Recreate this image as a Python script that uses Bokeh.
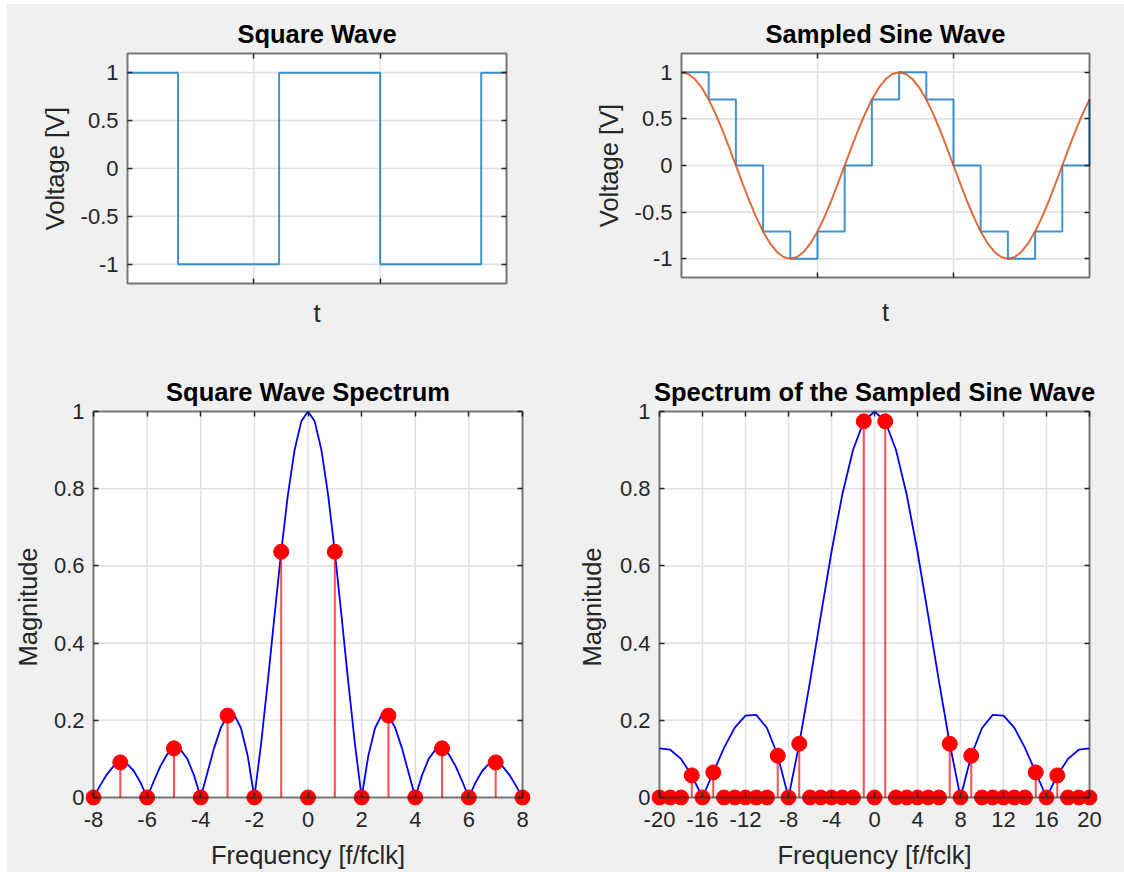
from bokeh.plotting import figure
from bokeh.layouts import column, row
from bokeh.models import Range1d, LinearAxis, FixedTicker, CustomJSTickFormatter, Spacer
from bokeh.embed import file_html
from bokeh.resources import INLINE

# ---------------- data ----------------
# Square wave (top left)
square_t = [0, 1, 3, 5, 7, 7.5]
square_v = [1, -1, 1, -1, 1, 1]

# Sample-and-hold of the sine (top right, blue stairs)
held_t = [0, 0.5, 1, 1.5, 2, 2.5, 3, 3.5, 4, 4.5, 5, 5.5, 6, 6.5, 7, 7.5]
held_v = [1, 0.707, 0, -0.707, -1, -0.707, 0, 0.707,
          1, 0.707, 0, -0.707, -1, -0.707, 0, 0.707]

# Continuous sine (top right, orange)
sine_t = [0, 0.125, 0.25, 0.375, 0.5, 0.625, 0.75, 0.875,
          1, 1.125, 1.25, 1.375, 1.5, 1.625, 1.75, 1.875,
          2, 2.125, 2.25, 2.375, 2.5, 2.625, 2.75, 2.875,
          3, 3.125, 3.25, 3.375, 3.5, 3.625, 3.75, 3.875,
          4, 4.125, 4.25, 4.375, 4.5, 4.625, 4.75, 4.875,
          5, 5.125, 5.25, 5.375, 5.5, 5.625, 5.75, 5.875,
          6, 6.125, 6.25, 6.375, 6.5, 6.625, 6.75, 6.875,
          7, 7.125, 7.25, 7.375, 7.5]
sine_v = [1, 0.981, 0.924, 0.831, 0.707, 0.556, 0.383, 0.195,
          0, -0.195, -0.383, -0.556, -0.707, -0.831, -0.924, -0.981,
          -1, -0.981, -0.924, -0.831, -0.707, -0.556, -0.383, -0.195,
          0, 0.195, 0.383, 0.556, 0.707, 0.831, 0.924, 0.981,
          1, 0.981, 0.924, 0.831, 0.707, 0.556, 0.383, 0.195,
          0, -0.195, -0.383, -0.556, -0.707, -0.831, -0.924, -0.981,
          -1, -0.981, -0.924, -0.831, -0.707, -0.556, -0.383, -0.195,
          0, 0.195, 0.383, 0.556, 0.707]

# Square wave spectrum (bottom left): envelope and harmonics
sq_env_f = [-8, -7.75, -7.5, -7.25, -7, -6.75, -6.5, -6.25,
            -6, -5.75, -5.5, -5.25, -5, -4.75, -4.5, -4.25,
            -4, -3.75, -3.5, -3.25, -3, -2.75, -2.5, -2.25,
            -2, -1.75, -1.5, -1.25, -1, -0.75, -0.5, -0.25,
            0, 0.25, 0.5, 0.75, 1, 1.25, 1.5, 1.75,
            2, 2.25, 2.5, 2.75, 3, 3.25, 3.5, 3.75,
            4, 4.25, 4.5, 4.75, 5, 5.25, 5.5, 5.75,
            6, 6.25, 6.5, 6.75, 7, 7.25, 7.5, 7.75, 8]
sq_env_mag = [0, 0.0314, 0.0600, 0.0811, 0.0909, 0.0871, 0.0693, 0.0390,
              0, 0.0424, 0.0818, 0.1120, 0.1273, 0.1238, 0.1000, 0.0573,
              0, 0.0650, 0.1286, 0.1810, 0.2122, 0.2139, 0.1801, 0.1083,
              0, 0.1392, 0.3001, 0.4705, 0.6366, 0.7842, 0.9003, 0.9745,
              1, 0.9745, 0.9003, 0.7842, 0.6366, 0.4705, 0.3001, 0.1392,
              0, 0.1083, 0.1801, 0.2139, 0.2122, 0.1810, 0.1286, 0.0650,
              0, 0.0573, 0.1000, 0.1238, 0.1273, 0.1120, 0.0818, 0.0424,
              0, 0.0390, 0.0693, 0.0871, 0.0909, 0.0811, 0.0600, 0.0314, 0]
sq_harm_f = [-8, -7, -6, -5, -4, -3, -2, -1, 0, 1, 2, 3, 4, 5, 6, 7, 8]
sq_harm_mag = [0, 0.0909, 0, 0.1273, 0, 0.2122, 0, 0.6366, 0,
               0.6366, 0, 0.2122, 0, 0.1273, 0, 0.0909, 0]
sq_harm_base = [0, 0, 0, 0, 0, 0, 0, 0, 0, 0, 0, 0, 0, 0, 0, 0, 0]

# Sampled sine spectrum (bottom right): envelope and lines
ss_f = [-20, -19, -18, -17, -16, -15, -14, -13, -12, -11, -10, -9, -8, -7,
        -6, -5, -4, -3, -2, -1, 0, 1, 2, 3, 4, 5, 6, 7, 8, 9, 10, 11, 12,
        13, 14, 15, 16, 17, 18, 19, 20]
ss_env = [0.1273, 0.1238, 0.1000, 0.0573, 0, 0.0650, 0.1286, 0.1810, 0.2122,
          0.2139, 0.1801, 0.1083, 0, 0.1392, 0.3001, 0.4705, 0.6366, 0.7842,
          0.9003, 0.9745, 1, 0.9745, 0.9003, 0.7842, 0.6366, 0.4705, 0.3001,
          0.1392, 0, 0.1083, 0.1801, 0.2139, 0.2122, 0.1810, 0.1286, 0.0650,
          0, 0.0573, 0.1000, 0.1238, 0.1273]
ss_lines = [0, 0, 0, 0.0573, 0, 0.0650, 0, 0, 0, 0, 0, 0.1083, 0, 0.1392,
            0, 0, 0, 0, 0, 0.9745, 0, 0.9745, 0, 0, 0, 0, 0, 0.1392, 0,
            0.1083, 0, 0, 0, 0, 0, 0.0650, 0, 0.0573, 0, 0, 0]
ss_base = [0] * 41

# ---------------- ticks / limits ----------------
time_lim = (0, 7.5)
volt_lim = (-1.2, 1.2)
time_ticks = [2.5, 5]
volt_ticks = [-1, -0.5, 0, 0.5, 1]
volt_labels = ["-1", "-0.5", "0", "0.5", "1"]

mag_lim = (0, 1)
mag_ticks = [0, 0.2, 0.4, 0.6, 0.8, 1]
mag_labels = ["0", "0.2", "0.4", "0.6", "0.8", "1"]
mag_grid = [0.2, 0.4, 0.6, 0.8]

sq_freq_lim = (-8, 8)
sq_freq_ticks = [-8, -6, -4, -2, 0, 2, 4, 6, 8]
sq_freq_labels = ["-8", "-6", "-4", "-2", "0", "2", "4", "6", "8"]
sq_freq_grid = [-6, -4, -2, 0, 2, 4, 6]

ss_freq_lim = (-20, 20)
ss_freq_ticks = [-20, -16, -12, -8, -4, 0, 4, 8, 12, 16, 20]
ss_freq_labels = ["-20", "-16", "-12", "-8", "-4", "0", "4", "8", "12", "16", "20"]
ss_freq_grid = [-16, -12, -8, -4, 0, 4, 8, 12, 16]

# ---------------- style ----------------
BG = "#f0f0f0"
FONT = "Liberation Sans"
AXC = "#262626"
GRIDC = "#e2e2e2"
TICK_FS = "22px"
LABEL_FS = "25.5px"
TITLE_FS = "25.5px"


def panel(title, xlim, ylim, box, origin, size, pads):
    bl, bt, bw, bh = box
    ox, oy = origin
    fw, fh = size
    pl, pr, pt, pb = pads
    frw, frh = bw + pl + pr, bh + pt + pb
    mbl, mbt = bl - pl - ox, bt - pt - oy
    mbr, mbb = fw - mbl - frw, fh - mbt - frh
    ux = (xlim[1] - xlim[0]) / bw
    uy = (ylim[1] - ylim[0]) / bh
    p = figure(title=title, frame_width=frw, frame_height=frh,
               x_range=Range1d(xlim[0] - pl * ux, xlim[1] + pr * ux),
               y_range=Range1d(ylim[0] - pb * uy, ylim[1] + pt * uy),
               min_border_left=mbl, min_border_right=mbr,
               min_border_top=mbt, min_border_bottom=mbb,
               x_axis_location=None, y_axis_location=None,
               output_backend="svg", toolbar_location=None,
               background_fill_color=BG, border_fill_color=BG,
               outline_line_color=None, styles={"background-color": BG})
    p.grid.visible = False
    t = p.title
    t.align = "center"
    t.text_font = FONT
    t.text_font_size = TITLE_FS
    t.text_font_style = "bold"
    t.text_color = "black"
    t.standoff = 5
    # white axes box
    p.quad(left=[xlim[0]], right=[xlim[1]], bottom=[ylim[0]], top=[ylim[1]],
           fill_color="white", line_color=None, level="image")
    return p


def grid_lines(p, xlim, ylim, xg, yg):
    if xg:
        p.segment(x0=xg, y0=[ylim[0]] * len(xg), x1=xg, y1=[ylim[1]] * len(xg),
                  line_color=GRIDC, line_width=1.6, level="underlay")
    if yg:
        p.segment(x0=[xlim[0]] * len(yg), y0=yg, x1=[xlim[1]] * len(yg), y1=yg,
                  line_color=GRIDC, line_width=1.6, level="underlay")


def box_outline(p, xlim, ylim):
    p.quad(left=[xlim[0]], right=[xlim[1]], bottom=[ylim[0]], top=[ylim[1]],
           fill_color=None, line_color=AXC, line_alpha=0.62, line_width=2,
           level="overlay")


def tick_axis(p, side, loc, ticks):
    """Inward tick marks drawn on the edge of the axes box (no labels)."""
    ax = LinearAxis(ticker=FixedTicker(ticks=ticks), fixed_location=loc,
                    formatter=CustomJSTickFormatter(code="return '';"),
                    axis_line_color=None, major_tick_in=5, major_tick_out=0,
                    major_tick_line_color=AXC, major_tick_line_width=1.5,
                    minor_tick_line_color=None, major_label_standoff=0,
                    major_label_text_font_size="0px")
    p.add_layout(ax, side)
    return ax


def label_axis(p, side, ticks, labels, label, tick_standoff, label_standoff):
    """Tick labels and axis title (tick marks come from tick_axis)."""
    ax = LinearAxis(ticker=FixedTicker(ticks=ticks),
                    axis_line_color=None, major_tick_line_color=None,
                    major_tick_in=0, major_tick_out=0,
                    minor_tick_line_color=None,
                    major_label_standoff=tick_standoff,
                    major_label_text_font=FONT, major_label_text_color=AXC,
                    axis_label=label, axis_label_standoff=label_standoff,
                    axis_label_text_font=FONT, axis_label_text_font_size=LABEL_FS,
                    axis_label_text_font_style="normal", axis_label_text_color=AXC)
    if labels is None:
        ax.formatter = CustomJSTickFormatter(code="return '';")
        ax.major_label_text_font_size = "0px"
    else:
        ax.major_label_overrides = dict(zip(ticks, labels))
        ax.major_label_text_font_size = TICK_FS
    p.add_layout(ax, side)
    return ax


# ---------------- top left: Square Wave ----------------
p1 = panel("Square Wave", time_lim, volt_lim, (127, 53, 379, 230), (7, 4), (558, 358), (3, 3, 3, 3))
grid_lines(p1, time_lim, volt_lim, time_ticks, volt_ticks)
p1.step(square_t, square_v, mode="after", line_color="#0072BD", line_width=2, line_alpha=0.75)
label_axis(p1, "left", volt_ticks, volt_labels, "Voltage [V]", 6, 9)
label_axis(p1, "below", time_ticks, None, "t", 0, 12)
tick_axis(p1, "left", time_lim[0], volt_ticks)
tick_axis(p1, "below", volt_lim[0], time_ticks)
tick_axis(p1, "above", volt_lim[1], time_ticks)
tick_axis(p1, "right", time_lim[1], volt_ticks)
box_outline(p1, time_lim, volt_lim)

# ---------------- top right: Sampled Sine Wave ----------------
p2 = panel("Sampled Sine Wave", time_lim, volt_lim, (681, 52, 408, 224), (565, 4), (559, 358), (3, 3, 3, 3))
grid_lines(p2, time_lim, volt_lim, time_ticks, volt_ticks)
p2.step(held_t, held_v, mode="after", line_color="#0072BD", line_width=2, line_alpha=0.75)
p2.line(sine_t, sine_v, line_color="#D95319", line_width=2, line_alpha=0.85)
label_axis(p2, "left", volt_ticks, volt_labels, "Voltage [V]", 6, 9)
label_axis(p2, "below", time_ticks, None, "t", 0, 17)
tick_axis(p2, "left", time_lim[0], volt_ticks)
tick_axis(p2, "below", volt_lim[0], time_ticks)
tick_axis(p2, "above", volt_lim[1], time_ticks)
tick_axis(p2, "right", time_lim[1], volt_ticks)
box_outline(p2, time_lim, volt_lim)

# ---------------- bottom left: Square Wave Spectrum ----------------
p3 = panel("Square Wave Spectrum", sq_freq_lim, mag_lim, (93, 411, 429, 386), (7, 362), (558, 510), (8, 8, 3, 8))
grid_lines(p3, sq_freq_lim, mag_lim, sq_freq_grid, mag_grid)
p3.line(sq_env_f, sq_env_mag, line_color="#0000FF", line_width=1.8)
p3.segment(x0=sq_harm_f, y0=sq_harm_base, x1=sq_harm_f, y1=sq_harm_mag,
           line_color="#FF0000", line_width=2, line_alpha=0.7)
p3.scatter(sq_harm_f, sq_harm_mag, size=15, marker="circle",
           fill_color="#FF0000", line_color="#FF0000")
label_axis(p3, "left", mag_ticks, mag_labels, "Magnitude", 1, 9)
label_axis(p3, "below", sq_freq_ticks, sq_freq_labels, "Frequency [f/fclk]", 6, 11)
tick_axis(p3, "left", sq_freq_lim[0], mag_ticks)
tick_axis(p3, "below", mag_lim[0], sq_freq_ticks)
tick_axis(p3, "above", mag_lim[1], sq_freq_ticks)
tick_axis(p3, "right", sq_freq_lim[1], mag_ticks)
box_outline(p3, sq_freq_lim, mag_lim)

# ---------------- bottom right: Spectrum of the Sampled Sine Wave ----------------
p4 = panel("Spectrum of the Sampled Sine Wave", ss_freq_lim, mag_lim, (659, 411, 430, 386), (565, 362), (559, 510), (8, 8, 3, 8))
grid_lines(p4, ss_freq_lim, mag_lim, ss_freq_grid, mag_grid)
p4.line(ss_f, ss_env, line_color="#0000FF", line_width=1.8)
p4.segment(x0=ss_f, y0=ss_base, x1=ss_f, y1=ss_lines,
           line_color="#FF0000", line_width=2, line_alpha=0.7)
p4.scatter(ss_f, ss_lines, size=15, marker="circle",
           fill_color="#FF0000", line_color="#FF0000")
label_axis(p4, "left", mag_ticks, mag_labels, "Magnitude", 1, 11)
label_axis(p4, "below", ss_freq_ticks, ss_freq_labels, "Frequency [f/fclk]", 6, 11)
tick_axis(p4, "left", ss_freq_lim[0], mag_ticks)
tick_axis(p4, "below", mag_lim[0], ss_freq_ticks)
tick_axis(p4, "above", mag_lim[1], ss_freq_ticks)
tick_axis(p4, "right", ss_freq_lim[1], mag_ticks)
box_outline(p4, ss_freq_lim, mag_lim)

top_row = row(p1, p2, styles={"background-color": BG})
bottom_row = row(p3, p4, styles={"background-color": BG})
grid = column(top_row, bottom_row, styles={"background-color": BG})
layout = column(Spacer(width=1124, height=4), row(Spacer(width=7, height=868), grid))
open("out.html", "w").write(file_html(layout, INLINE, title="Square wave and sampled sine spectra"))
